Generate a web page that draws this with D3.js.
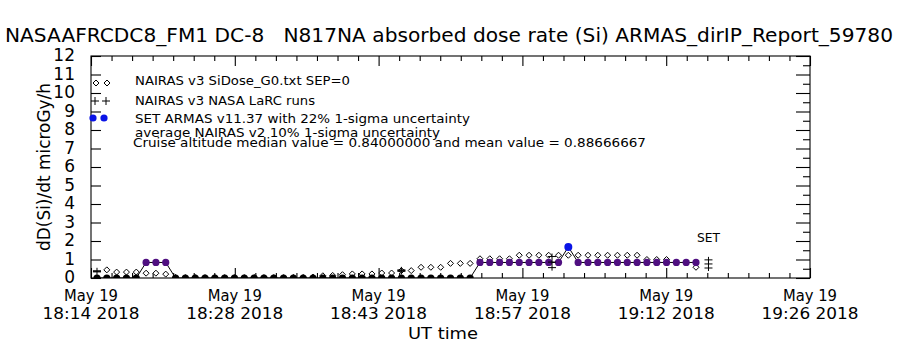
<!DOCTYPE html>
<html><head><meta charset="utf-8">
<script src="https://cdn.jsdelivr.net/npm/d3@7"></script>
<style>body{margin:0;background:#fff}svg{display:block}text{font-family:"DejaVu Sans",sans-serif;fill:#000;white-space:pre}</style>
</head><body>
<svg id="c" width="900" height="350"></svg>
<script>
// ---------- data ----------
const titleText = "NASAAFRCDC8_FM1 DC-8   N817NA absorbed dose rate (Si) ARMAS_dirIP_Report_59780";
const yTitle = "dD(Si)/dt microGy/h";
const xTitle = "UT time";
const axisStart = "18:14:30", axisEnd = "19:26:30";
const xTickTimes = ["18:14:30","18:28:54","18:43:18","18:57:42","19:12:06","19:26:30"];
const xTickTop = ["May 19","May 19","May 19","May 19","May 19","May 19"];
const xTickBottom = ["18:14 2018","18:28 2018","18:43 2018","18:57 2018","19:12 2018","19:26 2018"];
const yTicks = [0,1,2,3,4,5,6,7,8,9,10,11,12];

// ARMAS sample times (UT)
const armasTimes = ["18:15:06","18:16:05","18:17:04","18:18:03","18:19:02","18:20:01","18:21:00","18:21:59","18:22:58","18:23:57",
"18:24:56","18:25:55","18:26:54","18:27:53","18:28:52","18:29:51","18:30:50","18:31:49","18:32:48","18:33:47",
"18:34:46","18:35:45","18:36:44","18:37:43","18:38:42","18:39:41","18:40:40","18:41:39","18:42:38","18:43:37",
"18:44:36","18:45:35","18:46:34","18:47:33","18:48:32","18:49:31","18:50:30","18:51:29","18:52:28","18:53:27",
"18:54:26","18:55:25","18:56:24","18:57:23","18:58:22","18:59:21","19:00:20","19:01:19","19:02:18","19:03:17",
"19:04:16","19:05:15","19:06:14","19:07:13","19:08:12","19:09:11","19:10:10","19:11:09","19:12:08","19:13:07",
"19:14:06","19:15:05"];
// SET ARMAS dose rate
const armasValues = [0,0,0,0,0,0.84,0.84,0.84,0,0,
0,0,0,0,0,0,0,0,0,0,
0,0,0,0,0,0,0,0,0,0,
0,0,0,0,0,0,0,0,0,0.84,
0.84,0.84,0.84,0.84,0.84,0.84,0.84,0.84,1.68,0.84,
0.84,0.84,0.84,0.84,0.84,0.84,0.84,0.84,0.84,0.84,
0.84,0.84];
// NAIRAS v3 SiDose_G0 (same times; null = none)
const nairasValues = [null,0.44,0.32,0.32,0.32,0.26,0.26,0.21,0.03,0.02,
0.02,0.02,0.02,0.02,0.02,0.02,0.02,0.02,0.02,0.02,
0.03,0.03,0.05,0.12,0.14,0.18,0.22,0.22,0.22,0.27,
0.27,0.40,0.40,0.58,0.58,0.58,0.79,0.79,0.79,1.04,
1.04,1.04,1.04,1.23,1.23,1.23,1.23,1.23,1.23,1.23,
1.23,1.23,1.23,1.23,1.23,1.23,1.00,1.00,1.00,0.84,
0.84,0.58];
// NAIRAS v3 NASA LaRC runs with uncertainty
const larcTimes = ["18:15:06","18:45:35","19:00:40","19:16:20"];
const larcValues = [0.36,0.40,0.86,0.76];
const larcErrors = [0.03,0.04,0.30,0.22];

const legendLabels = ["NAIRAS v3 SiDose_G0.txt SEP=0","NAIRAS v3 NASA LaRC runs","SET ARMAS v11.37 with 22% 1-sigma uncertainty"];
const noteLines = ["average NAIRAS v2 10% 1-sigma uncertainty","Cruise altitude median value = 0.84000000 and mean value = 0.88666667"];
const setLabel = "SET";

// ---------- drawing ----------
const svg = d3.select("#c");
const L=91, R=810, T=56, B=278;
const P = s => d3.utcParse("%Y-%m-%d %H:%M:%S")("2018-05-19 "+s);
const x = d3.scaleUtc().domain([P(axisStart),P(axisEnd)]).range([L,R]);
const y = d3.scaleLinear().domain([0,12]).range([B,T]);
const purple = "#4f0f80", blue = "#0a14e6";

svg.append("defs").append("clipPath").attr("id","clip").append("rect").attr("x",L).attr("y",T).attr("width",R-L).attr("height",B-T);

// title
svg.append("text").attr("x",5).attr("y",42).attr("font-size",20).attr("textLength",888).attr("lengthAdjust","spacingAndGlyphs").text(titleText);

// frame
svg.append("rect").attr("x",L).attr("y",T).attr("width",R-L).attr("height",B-T).attr("fill","none").attr("stroke","#000").attr("stroke-width",1.1);

// y axes
const yl = svg.append("g").attr("transform",`translate(${L},0)`).call(d3.axisLeft(y).tickValues(yTicks).tickSize(-10).tickPadding(16).tickFormat(d3.format("d")));
yl.select(".domain").remove();
yl.selectAll("text").attr("font-size",17).attr("dy","0.28em").attr("fill","#000");
const yr = svg.append("g").attr("transform",`translate(${R},0)`).call(d3.axisRight(y).tickValues(yTicks).tickSize(-14).tickFormat(""));
yr.select(".domain").remove();
const yrm = svg.append("g").attr("transform",`translate(${R},0)`).call(d3.axisRight(y).tickValues(yTicks.slice(0,-1).map(v=>v+0.5)).tickSize(-7).tickFormat(""));
yrm.select(".domain").remove();

// x axes (ticks inward), majors and minors
const tickDates = xTickTimes.map(P);
const minorDates = [];
for (let i=0;i<tickDates.length-1;i++){ const a=+tickDates[i], b=+tickDates[i+1]; for(let k=1;k<7;k++) minorDates.push(new Date(a+(b-a)*k/7)); }
[[B,d3.axisBottom],[T,d3.axisTop]].forEach(([yy,ax])=>{
  const gM = svg.append("g").attr("transform",`translate(0,${yy})`).call(ax(x).tickValues(tickDates).tickSize(-10).tickFormat(""));
  gM.select(".domain").remove();
  const gm = svg.append("g").attr("transform",`translate(0,${yy})`).call(ax(x).tickValues(minorDates).tickSize(-5).tickFormat(""));
  gm.select(".domain").remove();
});
svg.selectAll(".tick line").attr("stroke","#000").attr("stroke-width",1.1);

// x labels
const xl = svg.append("g");
tickDates.forEach((d,i)=>{
  xl.append("text").attr("x",x(d)).attr("y",301).attr("text-anchor","middle").attr("font-size",15).attr("textLength",54).attr("lengthAdjust","spacingAndGlyphs").text(xTickTop[i]);
  xl.append("text").attr("x",x(d)).attr("y",319).attr("text-anchor","middle").attr("font-size",15).attr("textLength",97).attr("lengthAdjust","spacingAndGlyphs").text(xTickBottom[i]);
});
svg.append("text").attr("x",443).attr("y",339).attr("text-anchor","middle").attr("font-size",16).attr("textLength",70).attr("lengthAdjust","spacingAndGlyphs").text(xTitle);
svg.append("text").attr("transform","translate(50,167) rotate(-90)").attr("text-anchor","middle").attr("font-size",17).attr("textLength",168).attr("lengthAdjust","spacingAndGlyphs").text(yTitle);

// plot data
const g = svg.append("g").attr("clip-path","url(#clip)");
const armas = armasTimes.map((t,i)=>({t:P(t),v:armasValues[i]}));
const nairas = armasTimes.map((t,i)=>({t:P(t),v:nairasValues[i]})).filter(d=>d.v!==null);
const vmax = d3.max(armasValues);

// diamonds
const diamond = (cx,cy,r)=>`M${cx},${cy-r}L${cx+r},${cy}L${cx},${cy+r}L${cx-r},${cy}Z`;
g.selectAll("path.dia").data(nairas).join("path").attr("class","dia")
  .attr("d",d=>diamond(x(d.t),y(d.v),3)).attr("fill","#fff").attr("stroke","#000").attr("stroke-width",1);

// ARMAS line
g.append("path").datum(armas).attr("d",d3.line().x(d=>x(d.t)).y(d=>y(d.v))).attr("fill","none").attr("stroke","#000").attr("stroke-width",1);
g.selectAll("circle.arm").data(armas).join("circle").attr("class","arm")
  .attr("cx",d=>x(d.t)).attr("cy",d=>y(d.v)).attr("r",d=>d.v===vmax?4:3.6)
  .attr("fill",d=>d.v===0?"#000":(d.v===vmax?blue:purple));

// LaRC + with error bars
const larc = larcTimes.map((t,i)=>({t:P(t),v:larcValues[i],e:larcErrors[i]}));
const lg = g.selectAll("g.larc").data(larc).join("g").attr("class","larc").attr("stroke","#000").attr("stroke-width",1);
lg.append("line").attr("x1",d=>x(d.t)-4).attr("x2",d=>x(d.t)+4).attr("y1",d=>y(d.v)).attr("y2",d=>y(d.v));
lg.append("line").attr("x1",d=>x(d.t)).attr("x2",d=>x(d.t)).attr("y1",d=>y(d.v+d.e)-3).attr("y2",d=>y(d.v-d.e)+3);
lg.append("line").attr("x1",d=>x(d.t)-4).attr("x2",d=>x(d.t)+4).attr("y1",d=>y(d.v+d.e)).attr("y2",d=>y(d.v+d.e));
lg.append("line").attr("x1",d=>x(d.t)-4).attr("x2",d=>x(d.t)+4).attr("y1",d=>y(d.v-d.e)).attr("y2",d=>y(d.v-d.e));

// legend
const leg = svg.append("g");
[96,107].forEach(cx=>leg.append("path").attr("d",diamond(cx,83,3)).attr("fill","#fff").attr("stroke","#000"));
[95,106].forEach(cx=>{leg.append("line").attr("x1",cx-4).attr("x2",cx+4).attr("y1",101).attr("y2",101).attr("stroke","#000");
  leg.append("line").attr("x1",cx).attr("x2",cx).attr("y1",97).attr("y2",105).attr("stroke","#000");});
[93,104].forEach(cx=>leg.append("circle").attr("cx",cx).attr("cy",118).attr("r",3.6).attr("fill",blue));
const legY=[85,105,123], legW=[215,180,335];
legendLabels.forEach((s,i)=>leg.append("text").attr("x",135).attr("y",legY[i]).attr("font-size",13).attr("textLength",legW[i]).attr("lengthAdjust","spacingAndGlyphs").text(s));
leg.append("text").attr("x",135).attr("y",137).attr("font-size",13).attr("textLength",305).attr("lengthAdjust","spacingAndGlyphs").text(noteLines[0]);
leg.append("text").attr("x",133).attr("y",147).attr("font-size",13).attr("textLength",513).attr("lengthAdjust","spacingAndGlyphs").text(noteLines[1]);
svg.append("text").attr("x",697).attr("y",242).attr("font-size",13).attr("textLength",23).attr("lengthAdjust","spacingAndGlyphs").text(setLabel);
</script>
</body></html>
